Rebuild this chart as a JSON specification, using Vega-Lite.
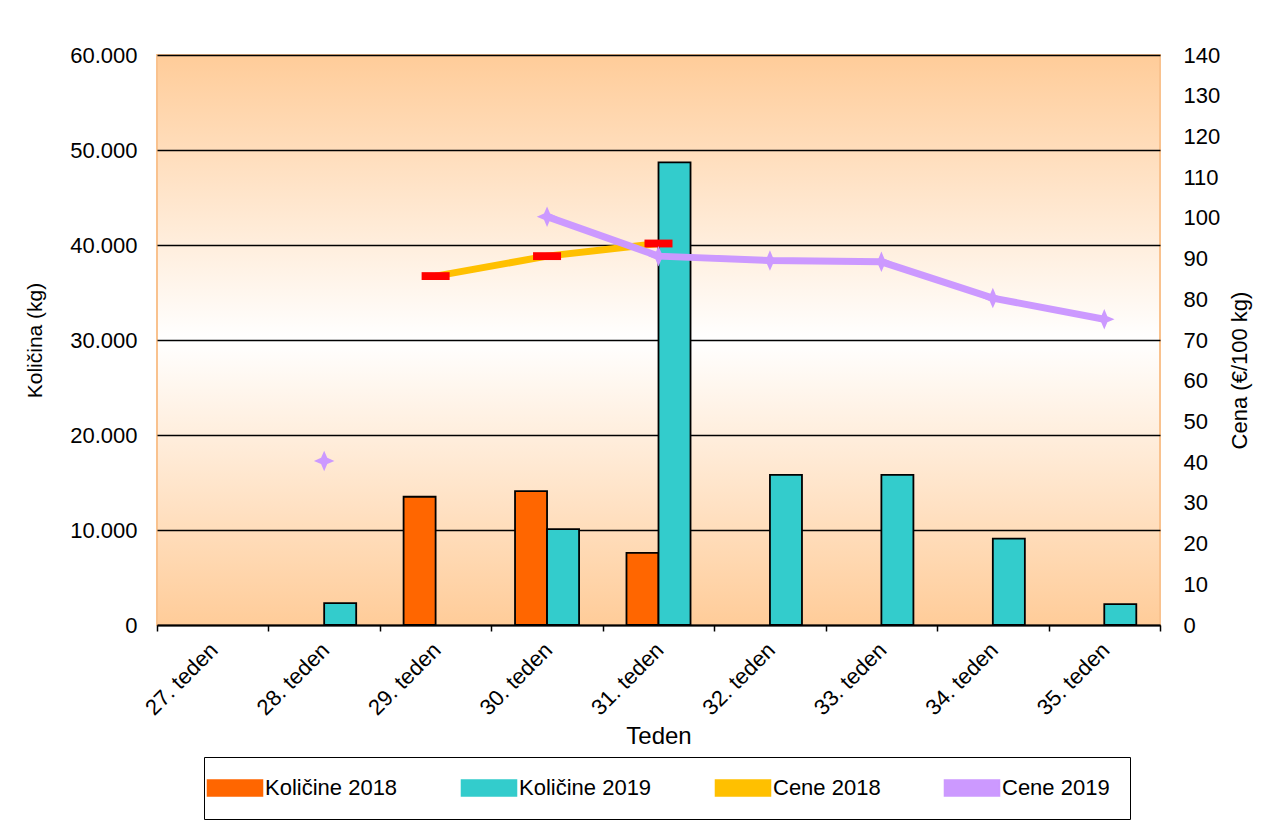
{
  "$schema": "https://vega.github.io/schema/vega-lite/v6.json",
  "width": 1003,
  "height": 570,
  "autosize": {"type": "none"},
  "padding": {"left": 157, "top": 55, "right": 122, "bottom": 196},
  "background": "white",
  "data": {
    "values": [
      {"week": "29. teden", "series": "Količine 2018", "value": 13500},
      {"week": "30. teden", "series": "Količine 2018", "value": 14100},
      {"week": "31. teden", "series": "Količine 2018", "value": 7600},
      {"week": "28. teden", "series": "Količine 2019", "value": 2300},
      {"week": "30. teden", "series": "Količine 2019", "value": 10100},
      {"week": "31. teden", "series": "Količine 2019", "value": 48700},
      {"week": "32. teden", "series": "Količine 2019", "value": 15800},
      {"week": "33. teden", "series": "Količine 2019", "value": 15800},
      {"week": "34. teden", "series": "Količine 2019", "value": 9100},
      {"week": "35. teden", "series": "Količine 2019", "value": 2200},
      {"week": "29. teden", "series": "Cene 2018", "value": 85.7},
      {"week": "30. teden", "series": "Cene 2018", "value": 90.6},
      {"week": "31. teden", "series": "Cene 2018", "value": 93.7},
      {"week": "28. teden", "series": "Cene 2019", "value": 40.3},
      {"week": "29. teden", "series": "Cene 2019", "value": null},
      {"week": "30. teden", "series": "Cene 2019", "value": 100.3},
      {"week": "31. teden", "series": "Cene 2019", "value": 90.6},
      {"week": "32. teden", "series": "Cene 2019", "value": 89.5},
      {"week": "33. teden", "series": "Cene 2019", "value": 89.2},
      {"week": "34. teden", "series": "Cene 2019", "value": 80.3},
      {"week": "35. teden", "series": "Cene 2019", "value": 75.1}
    ]
  },
  "layer": [
    {
      "transform": [{"filter": "indexof(datum.series, 'Koli') === 0"}],
      "mark": {"type": "bar", "stroke": "black", "strokeWidth": 1.8},
      "encoding": {
        "x": {
          "field": "week", "type": "nominal",
          "scale": {"domain": ["27. teden", "28. teden", "29. teden", "30. teden", "31. teden", "32. teden", "33. teden", "34. teden", "35. teden"], "paddingInner": 0, "paddingOuter": 0},
          "title": "Teden",
          "axis": {"labelAngle": -45, "labelAlign": "right", "labelBaseline": "top", "labelOffset": -6, "labelPadding": 8, "tickBand": "extent", "ticks": true, "tickSize": 6, "tickWidth": 1.5, "tickColor": "black", "domainColor": "black", "domainWidth": 2, "grid": false, "titlePadding": 6, "titleFontSize": 24}
        },
        "xOffset": {"field": "series", "type": "nominal", "scale": {"domain": ["Količine 2018", "Količine 2019"], "paddingInner": 0, "paddingOuter": 0.74}},
        "y": {
          "field": "value", "type": "quantitative",
          "scale": {"domain": [0, 60000]},
          "title": "Količina (kg)",
          "axis": {"orient": "left", "values": [0, 10000, 20000, 30000, 40000, 50000, 60000], "grid": true, "gridColor": "black", "gridWidth": 1.5, "gridOpacity": 1, "ticks": false, "domain": false, "labelPadding": 20, "labelExpr": "replace(format(datum.value, ',.0f'), ',', '.')", "titlePadding": 24, "titleFontSize": 21}
        },
        "color": {
          "field": "series", "type": "nominal",
          "scale": {"domain": ["Količine 2018", "Količine 2019", "Cene 2018", "Cene 2019"], "range": ["#FF6600", "#33CCCC", "#FFC000", "#CC99FF"]},
          "legend": {
            "orient": "none", "legendX": 47, "legendY": 702, "direction": "horizontal", "title": null,
            "padding": 20, "strokeColor": "black", "fillColor": "white",
            "symbolSize": 256, "symbolType": "M-3.44,-1H3.44V1H-3.44Z",
            "labelFontSize": 22, "labelFont": "Liberation Sans", "labelColor": "black",
            "columnPadding": 60, "labelOffset": 19
          }
        }
      }
    },
    {
      "encoding": {
        "x": {"field": "week", "type": "nominal"},
        "y": {
          "field": "value", "type": "quantitative",
          "scale": {"domain": [0, 140]},
          "title": "Cena (€/100 kg)",
          "axis": {"orient": "right", "values": [0, 10, 20, 30, 40, 50, 60, 70, 80, 90, 100, 110, 120, 130, 140], "grid": false, "ticks": false, "domain": false, "labelPadding": 23, "titleAngle": 270, "titlePadding": 32, "titleFontSize": 22, "titleY": 315}
        }
      },
      "layer": [
        {
          "transform": [{"filter": "datum.series === 'Cene 2018'"}],
          "mark": {"type": "line", "strokeWidth": 7, "invalid": "break-paths-filter-domains"},
          "encoding": {"color": {"field": "series", "type": "nominal"}}
        },
        {
          "transform": [{"filter": "datum.series === 'Cene 2018'"}],
          "mark": {"type": "point", "shape": "M-1,-0.28H1V0.28H-1Z", "size": 784, "filled": true, "color": "#FF0000", "opacity": 1}
        },
        {
          "transform": [{"filter": "datum.series === 'Cene 2019'"}],
          "mark": {"type": "line", "strokeWidth": 7, "invalid": "break-paths-filter-domains"},
          "encoding": {"color": {"field": "series", "type": "nominal"}}
        },
        {
          "transform": [{"filter": "datum.series === 'Cene 2019'"}],
          "mark": {"type": "point", "shape": "M0,-1L0.3,-0.3L1,0L0.3,0.3L0,1L-0.3,0.3L-1,0L-0.3,-0.3Z", "size": 420, "filled": true, "color": "#CC99FF", "opacity": 1}
        }
      ]
    }
  ],
  "resolve": {"scale": {"y": "independent"}},
  "config": {
    "font": "Liberation Sans",
    "axis": {"labelFont": "Liberation Sans", "titleFont": "Liberation Sans", "labelFontSize": 22, "titleFontSize": 22, "labelColor": "black", "titleColor": "black", "titleFontWeight": "normal"},
    "view": {
      "fill": {"gradient": "linear", "x1": 0, "y1": 0, "x2": 0, "y2": 1, "stops": [{"offset": 0, "color": "#FFCC99"}, {"offset": 0.5, "color": "#FFFFFF"}, {"offset": 1, "color": "#FFCC99"}]},
      "stroke": "#F9C28E",
      "strokeWidth": 2
    }
  }
}
